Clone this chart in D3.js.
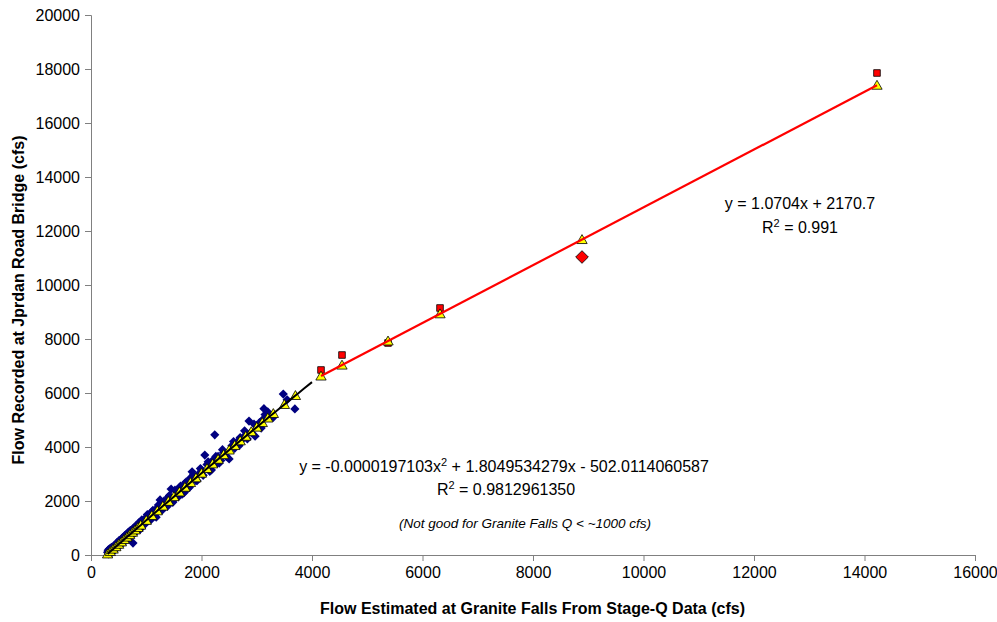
<!DOCTYPE html>
<html>
<head>
<meta charset="utf-8">
<script src="https://cdn.jsdelivr.net/npm/d3@7"></script>
<style>
  body { margin: 0; background: #fff; }
  text { font-family: "Liberation Sans", Arial, sans-serif; fill: #000; }
</style>
</head>
<body>
<div id="chart"></div>
<script>
// DATA
// observed flows (blue diamonds)
var obsX = [300, 310, 320, 330, 340, 350, 360, 380, 400, 420, 440, 460, 480, 500, 520, 540, 560, 580, 600, 620,
            640, 660, 680, 700, 720, 740, 760, 780, 800, 820, 840, 860, 880, 900, 950, 1000, 1050, 1100, 1150, 1200,
            1250, 1300, 1350, 1400, 1450, 1500, 1550, 1600, 1650, 1700, 1750, 1800, 1830, 1900, 1950, 2000, 2060, 2100, 2150, 2200,
            2240, 2280, 2300, 2350, 2400, 2500, 2550, 2600, 2650, 2700, 2750, 2800, 2860, 2900, 2970, 3000, 3050, 3100, 3130, 3200,
            3250, 3480, 3690,
            370, 390, 410, 430, 470, 490, 510, 530, 570, 590, 610, 630, 670, 690, 710, 730, 770, 790, 810, 830,
            870, 890, 920, 980, 1020, 1080, 1120, 1180, 1220, 1280, 1320, 1380, 1420, 1480, 1520, 1580, 1620, 1680, 1720, 1780,
            1850, 1920, 1980, 2030, 2120, 2180, 2260, 2320, 2380, 2450, 2580, 2680, 2780, 2830, 2950, 3080, 3150, 3300, 3550];
var obsY = [100, 180, 40, 220, 120, 250, 60, 200, 300, 180, 350, 260, 430, 330, 520, 420, 600, 480, 680, 560,
            760, 620, 850, 700, 900, 780, 440, 960, 860, 1050, 940, 1150, 1040, 1250, 1180, 1400, 1300, 1600, 1480, 1750,
            2040, 1700, 1950, 2150, 2440, 2050, 2350, 2500, 2250, 2650, 2450, 2850, 3080, 2750, 3000, 3150, 3700, 3350, 3100, 3500,
            4450, 3400, 3650, 3500, 3800, 3560, 4050, 3950, 4200, 4350, 4300, 4450, 4960, 4550, 4400, 4800, 4900, 5000, 5420, 5300,
            5150, 5960, 5410,
            280, 120, 330, 200, 460, 300, 540, 380, 640, 470, 720, 540, 820, 640, 900, 700, 1000, 820, 1080, 900,
            1200, 950, 1300, 1150, 1500, 1300, 1650, 1400, 1850, 1650, 2000, 1800, 2200, 1950, 2400, 2150, 2550, 2300, 2700, 2500,
            2950, 2750, 3200, 2950, 3450, 3150, 3650, 3400, 3900, 3650, 4200, 4050, 4600, 4300, 4850, 4700, 5200, 5100, 5750];

// polynomial fit values (yellow triangles, black curve)
var fitX = [300, 350, 400, 450, 500, 550, 600, 650, 700, 750, 800, 850, 900, 1000, 1100, 1200, 1300, 1400, 1500, 1600,
            1700, 1800, 1900, 2000, 2100, 2200, 2300, 2400, 2500, 2600, 2700, 2800, 2900, 3000, 3100, 3200, 3300, 3500, 3700];
var fitY = [38, 127, 217, 306, 396, 485, 574, 663, 752, 841, 929, 1018, 1106, 1283, 1460, 1636, 1811, 1986, 2161, 2335,
            2509, 2683, 2856, 3029, 3201, 3374, 3545, 3716, 3887, 4058, 4228, 4397, 4567, 4735, 4904, 5072, 5240, 5574, 5906];
var curveEndX = [3850, 4000];
var curveEndY = [6155, 6402];

// high flows (red squares) and linear fit values (yellow triangles)
var highX = [4163, 4543, 5376, 6317, 14226];
var highY = [6852, 7407, 7852, 9148, 17852];
var linFitX = [4163, 4543, 5376, 6317, 8887, 14226];
var linFitY = [6627, 7033, 7925, 8932, 11683, 17398];

// outlier (red diamond)
var outX = [8887];
var outY = [11037];

// linear trend line ends
var trendX = [4163, 14226];
var trendY = [6627, 17398];

// tick labels
var xTicks = [0, 2000, 4000, 6000, 8000, 10000, 12000, 14000, 16000];
var yTicks = [0, 2000, 4000, 6000, 8000, 10000, 12000, 14000, 16000, 18000, 20000];

// CHART DETAILS
var W = 997, H = 622;
var margin = {top: 15, right: 22, bottom: 67, left: 91},
    width = W - margin.left - margin.right,
    height = H - margin.top - margin.bottom;

var svg = d3.select("#chart")
    .append("svg")
      .attr("width", W)
      .attr("height", H)
    .append("g")
      .attr("transform", "translate(" + margin.left + "," + margin.top + ")");

// SCALES
var x = d3.scaleLinear().domain([0, 16000]).range([0, width]);
var y = d3.scaleLinear().domain([0, 20000]).range([height, 0]);

// AXES
var xAxis = svg.append("g")
    .attr("transform", "translate(0," + height + ")")
    .call(d3.axisBottom(x).tickValues(xTicks).tickSizeOuter(0).tickSize(6).tickPadding(6).tickFormat(d3.format("d")));
var yAxis = svg.append("g")
    .call(d3.axisLeft(y).tickValues(yTicks).tickSizeOuter(0).tickSize(6).tickPadding(5).tickFormat(d3.format("d")));

[xAxis, yAxis].forEach(function(a) {
  a.select(".domain").attr("stroke", "#808080");
  a.selectAll(".tick line").attr("stroke", "#808080");
  a.selectAll(".tick text")
    .style("font-family", "'Liberation Sans', Arial, sans-serif")
    .style("font-size", "16px")
    .attr("fill", "#000");
});

// AXIS TITLES
svg.append("text")
    .attr("x", width / 2 - 0.5)
    .attr("y", height + 59)
    .attr("text-anchor", "middle")
    .style("font-size", "16px")
    .style("font-weight", "bold")
    .text("Flow Estimated at Granite Falls From Stage-Q Data (cfs)");

svg.append("text")
    .attr("transform", "translate(" + (-67) + "," + (height / 2 + 15) + ") rotate(-90)")
    .attr("text-anchor", "middle")
    .style("font-size", "16px")
    .style("font-weight", "bold")
    .text("Flow Recorded at Jprdan Road Bridge (cfs)");

// SYMBOLS
var diamond = d3.symbol().type(d3.symbolSquare).size(42);
var bigDiamond = d3.symbol().type(d3.symbolSquare).size(80);
var square = d3.symbol().type(d3.symbolSquare).size(44);
var triangle = d3.symbol().type(d3.symbolTriangle).size(46);

// OBSERVED POINTS
svg.append("g").selectAll("path")
  .data(d3.range(obsX.length))
  .enter()
  .append("path")
    .attr("d", diamond)
    .attr("transform", function(i) { return "translate(" + x(obsX[i]) + "," + y(obsY[i]) + ") rotate(45)"; })
    .style("fill", "#000080");

// HIGH FLOWS
svg.append("g").selectAll("path")
  .data(d3.range(highX.length))
  .enter()
  .append("path")
    .attr("d", square)
    .attr("transform", function(i) { return "translate(" + x(highX[i]) + "," + y(highY[i]) + ")"; })
    .style("fill", "#ff0000")
    .style("stroke", "#000")
    .style("stroke-width", 0.8);

svg.append("g").selectAll("path")
  .data(d3.range(outX.length))
  .enter()
  .append("path")
    .attr("d", bigDiamond)
    .attr("transform", function(i) { return "translate(" + x(outX[i]) + "," + y(outY[i]) + ") rotate(45)"; })
    .style("fill", "#ff0000")
    .style("stroke", "#000")
    .style("stroke-width", 0.8);

// FITTED VALUES
var allFitX = fitX.concat(linFitX), allFitY = fitY.concat(linFitY);
svg.append("g").selectAll("path")
  .data(d3.range(allFitX.length))
  .enter()
  .append("path")
    .attr("d", triangle)
    .attr("transform", function(i) { return "translate(" + x(allFitX[i]) + "," + (y(allFitY[i]) + 1) + ")"; })
    .style("fill", "#ffff00")
    .style("stroke", "#000")
    .style("stroke-width", 0.8);

// TREND LINES
var curveX = fitX.concat(curveEndX), curveY = fitY.concat(curveEndY);
var line = d3.line()
    .x(function(i) { return x(curveX[i]); })
    .y(function(i) { return y(curveY[i]); })
    .curve(d3.curveMonotoneX);
svg.append("path")
    .datum(d3.range(curveX.length))
    .attr("d", line)
    .style("fill", "none")
    .style("stroke", "#000")
    .style("stroke-width", 2);

svg.append("path")
    .datum(d3.range(trendX.length))
    .attr("d", d3.line().x(function(i) { return x(trendX[i]); }).y(function(i) { return y(trendY[i]); }))
    .style("fill", "none")
    .style("stroke", "#ff0000")
    .style("stroke-width", 2.2);

// EQUATIONS
function rSquared(cx, cy, val, size) {
  var t = svg.append("text")
      .attr("x", cx)
      .attr("y", cy)
      .attr("text-anchor", "middle")
      .style("font-size", size + "px");
  t.append("tspan").text("R");
  t.append("tspan").attr("dy", -6).style("font-size", (size - 5) + "px").text("2");
  t.append("tspan").attr("dy", 6).text(" = " + val);
}

svg.append("text")
    .attr("x", 800 - margin.left)
    .attr("y", 209 - margin.top)
    .attr("text-anchor", "middle")
    .style("font-size", "16px")
    .text("y = 1.0704x + 2170.7");
rSquared(800 - margin.left, 233 - margin.top, "0.991", 16);

svg.append("text")
    .attr("x", 504 - margin.left)
    .attr("y", 472 - margin.top)
    .attr("text-anchor", "middle")
    .style("font-size", "16px")
    .html("y = -0.0000197103x<tspan dy='-6' style='font-size:11px'>2</tspan><tspan dy='6'> + 1.8049534279x - 502.0114060587</tspan>");
rSquared(506 - margin.left, 495 - margin.top, "0.9812961350", 16);

svg.append("text")
    .attr("x", 525 - margin.left)
    .attr("y", 528 - margin.top)
    .attr("text-anchor", "middle")
    .style("font-size", "13.5px")
    .style("font-style", "italic")
    .text("(Not good for Granite Falls Q < ~1000 cfs)");
</script>
</body>
</html>
